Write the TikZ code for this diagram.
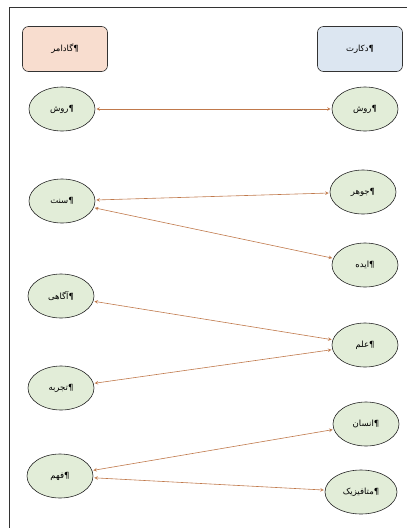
\documentclass[tikz,border=0pt]{standalone}
\usepackage{fontspec}
\usepackage{xcolor}
\usepackage{tikz}
\usetikzlibrary{shapes.geometric}
\TeXXeTstate=1
\newfontfamily\arabicfont[Script=Arabic]{DejaVu Sans}
\definecolor{gadfill}{HTML}{F8DDCF}
\definecolor{desfill}{HTML}{DCE6F1}
\definecolor{termfill}{HTML}{E2EDD8}
\definecolor{linkcol}{HTML}{C0794C}
\newcommand{\fa}[1]{{\arabicfont\beginR #1\endR¶}}

\begin{document}
\begin{tikzpicture}[x=1pt,y=-1pt]
      \tikzstyle{head} = [draw=black!80, semithick, rounded corners=6pt, minimum width=85pt, minimum height=45pt, font=\fontsize{8.5}{10}\selectfont]
      \tikzstyle{term} = [ellipse, draw=black!85, semithick, fill=termfill, minimum width=66pt, minimum height=44pt, inner sep=1pt, font=\fontsize{8.5}{10}\selectfont]
      \tikzstyle{link} = [<->, draw=linkcol, semithick, >=stealth, shorten >=1pt, shorten <=1pt]
      \useasboundingbox (0,0) rectangle (407,528);
      \draw[black!80, semithick] (9,528) -- (9,7) -- (407,7);
      \node[head, fill=gadfill] (ga) at (65,49) {\fa{گادامر}};
      \node[head, fill=desfill] (de) at (360,49) {\fa{دکارت}};
      \node[term] (g1) at (62,109) {\fa{روش}};
      \node[term] (g2) at (62,201) {\fa{سنت}};
      \node[term] (g3) at (61,296) {\fa{آگاهی}};
      \node[term] (g4) at (61,388) {\fa{تجربه}};
      \node[term] (g5) at (60,476) {\fa{فهم}};
      \node[term] (d1) at (365,109) {\fa{روش}};
      \node[term] (d2) at (363,192) {\fa{جوهر}};
      \node[term] (d3) at (365,265) {\fa{ایده}};
      \node[term] (d4) at (365,345) {\fa{علم}};
      \node[term] (d5) at (366,424) {\fa{انسان}};
      \node[term, minimum width=72pt] (d6) at (361,492) {\fa{متافیزیک}};
      \draw[link] (g1) to (d1);
      \draw[link] (g2) to (d2);
      \draw[link] (g2) to (d3);
      \draw[link] (g3) to (d4);
      \draw[link] (g4) to (d4);
      \draw[link] (g5) to (d5);
      \draw[link] (g5) to (d6);
\end{tikzpicture}
\end{document}
